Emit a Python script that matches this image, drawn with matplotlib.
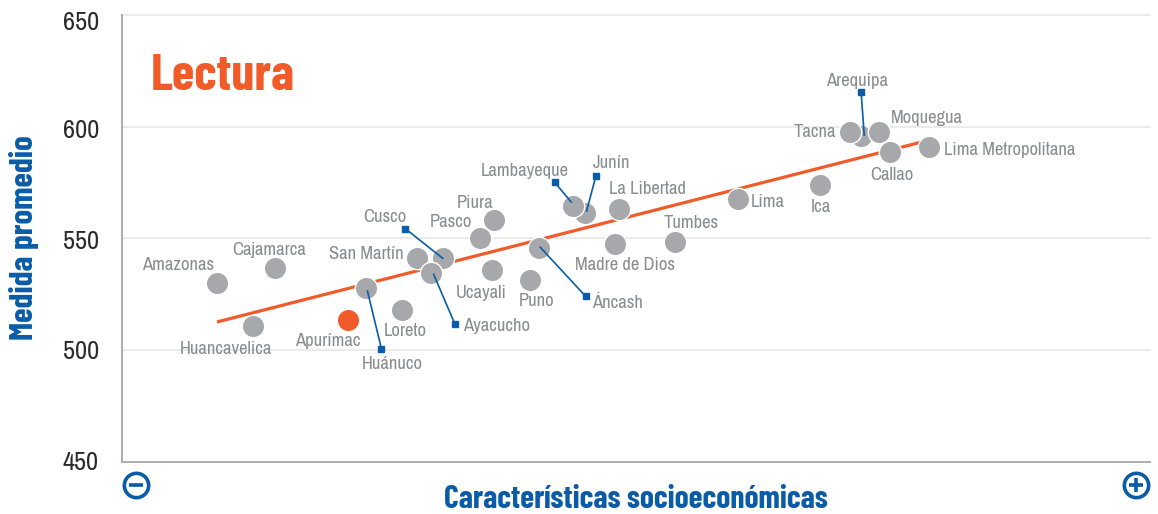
"""Lectura: medida promedio vs caracteristicas socioeconomicas, por region."""

import matplotlib
matplotlib.use("Agg")
import matplotlib.pyplot as plt

NARROW = ["Archivo Narrow", "Liberation Sans", "DejaVu Sans"]
BOLD_NARROW = ["Barlow Condensed", "Liberation Sans", "DejaVu Sans"]
plt.rcParams["font.family"] = NARROW

# x is a relative socioeconomic index (0-100), the source shows no numbers on it
regions = [
    "Amazonas", "Cajamarca", "Huancavelica", "Apurímac", "Huánuco", "Loreto",
    "San Martín", "Cusco", "Ayacucho", "Pasco", "Piura", "Ucayali", "Puno",
    "Áncash", "Junín", "Lambayeque", "La Libertad", "Madre de Dios", "Tumbes",
    "Lima", "Ica", "Arequipa", "Tacna", "Moquegua", "Callao", "Lima Metropolitana",
]
socio_index = [
    9.24, 14.89, 12.7, 22.0, 23.75, 27.24,
    28.7, 31.2, 30.06, 34.8, 36.2, 36.0, 39.7,
    40.56, 45.04, 43.9, 48.3, 48.0, 53.8,
    59.9, 67.9, 71.9, 70.8, 73.65, 74.7, 78.55,
]
mean_score = [
    530.0, 536.6, 510.7, 513.4, 527.7, 517.8,
    541.0, 541.0, 534.6, 550.3, 558.0, 535.8, 531.5,
    545.8, 561.3, 564.4, 563.0, 547.6, 548.3,
    567.6, 574.0, 595.8, 597.6, 597.6, 588.6, 590.9,
]

trend_x = [9.24, 78.55]
trend_y = [512.5, 594.0]

y_ticks = [450, 500, 550, 600, 650]

# leader lines: region -> (start x, start y, end x, end y)
leaders = {
    "Huánuco": (23.88, 526.3, 25.24, 500.4),
    "Ayacucho": (30.32, 533.8, 32.4, 511.4),
    "Cusco": (31.2, 541.0, 27.56, 554.3),
    "Áncash": (40.7, 545.9, 45.1, 524.0),
    "Lambayeque": (43.7, 566.2, 42.1, 575.0),
    "Junín": (45.2, 562.2, 46.1, 578.0),
    "Arequipa": (72.2, 596.2, 71.9, 615.4),
}

# label centre relative to the point, in pixels (dx, dy up)
LABEL_OFFSETS = {
    "Amazonas": (-39, 18), "Cajamarca": (-6, 18), "Huancavelica": (-26.5, -23),
    "Apurímac": (-20, -21), "Huánuco": (26, -76), "Loreto": (3, -21),
    "San Martín": (-51, 4.5), "Cusco": (-58, 41.5), "Ayacucho": (65, -53.5),
    "Pasco": (-29, 15.5), "Piura": (-19.5, 17), "Ucayali": (-11, -23),
    "Puno": (6, -21.5), "Áncash": (78, -55.5), "Junín": (26, 50),
    "Lambayeque": (-49, 35), "La Libertad": (28.5, 20), "Madre de Dios": (9.5, -21.5),
    "Tumbes": (16.5, 19), "Lima": (30, -3), "Ica": (1, -22.5),
    "Arequipa": (-4, 55), "Tacna": (-35, 0), "Moquegua": (48, 14),
    "Callao": (1.5, -23), "Lima Metropolitana": (80.5, -3),
}
TICK_SHIFT = {450: -1, 500: -1.5, 550: -3.5, 600: -4, 650: -8}

ORANGE = "#f15a29"
BLUE = "#0a5ca8"
GREY = "#a7a8ab"
LABEL = "#8a8c8f"
PX = 0.72  # points per pixel at dpi=100

W, H = 1158, 514
fig = plt.figure(figsize=(W / 100, H / 100), dpi=100, facecolor="white")
ax = fig.add_axes([122 / W, (H - 461.5) / H, 1028 / W, 446.5 / H])
ax.set_xlim(0, 100)
ax.set_ylim(450, 650)

for s in ("top", "right"):
    ax.spines[s].set_visible(False)
for s in ("left", "bottom"):
    ax.spines[s].set_color("#adadad")
    ax.spines[s].set_linewidth(1.4)
ax.set_xticks([])
ax.set_yticks(y_ticks)
ax.set_yticklabels([])
ax.tick_params(axis="y", length=0)
for tick in y_ticks[1:]:
    ax.axhline(tick, color="#e6e6e6", lw=1.1, zorder=1, clip_on=False)

for tick in y_ticks:
    ax.annotate(str(tick), (0, tick), xycoords=("axes fraction", "data"),
                xytext=(-23 * PX, TICK_SHIFT[tick] * PX), textcoords="offset points",
                ha="right", va="center", fontsize=19, color="#2b2b2b")

ax.plot(trend_x, trend_y, color=ORANGE, lw=2.3, zorder=2, solid_capstyle="butt")

# later points sit on top, same stacking as the source
for i, name in enumerate(regions):
    color = ORANGE if name == "Apurímac" else GREY
    ax.scatter(socio_index[i], mean_score[i], s=260, c=color, edgecolors="white",
               linewidths=1.0, zorder=3 + i * 0.01)
    dx, dy = LABEL_OFFSETS[name]
    ax.annotate(name, (socio_index[i], mean_score[i]), xytext=(dx * PX, dy * PX),
                textcoords="offset points", ha="center", va="center",
                fontsize=13.4, color=LABEL, zorder=6)

for x0, y0, x1, y1 in leaders.values():
    ax.plot([x0, x1], [y0, y1], color=BLUE, lw=1.2, zorder=5)
    ax.plot([x1], [y1], marker="s", ms=3.8, color=BLUE, zorder=5, clip_on=False)

fig.text(151 / W, 1 - 76 / H, "Lectura", fontsize=37, family=BOLD_NARROW,
         fontweight="bold", color=ORANGE, ha="left", va="center")
fig.text(24 / W, 1 - 238 / H, "Medida promedio", rotation=90, fontsize=23.9, family=BOLD_NARROW,
         fontweight="bold", color=BLUE, ha="center", va="center")
fig.text(636 / W, 1 - 500 / H, "Características socioeconómicas", fontsize=22.8, family=BOLD_NARROW,
         fontweight="bold", color=BLUE, ha="center", va="center")

# minus and plus badges under the x axis
for px, sign in ((136, "_"), (1136, "+")):
    xy = (px / W, 1 - 485 / H)
    ax.plot(*xy, transform=fig.transFigure, marker="o", ms=17.5, mfc="white", mec=BLUE,
            mew=2.6, clip_on=False, zorder=6)
    ax.plot(*xy, transform=fig.transFigure, marker=sign, ms=10, mec=BLUE, mew=2.6,
            clip_on=False, zorder=7)

fig.savefig("out.png", dpi=100, facecolor="white")
plt.close(fig)
